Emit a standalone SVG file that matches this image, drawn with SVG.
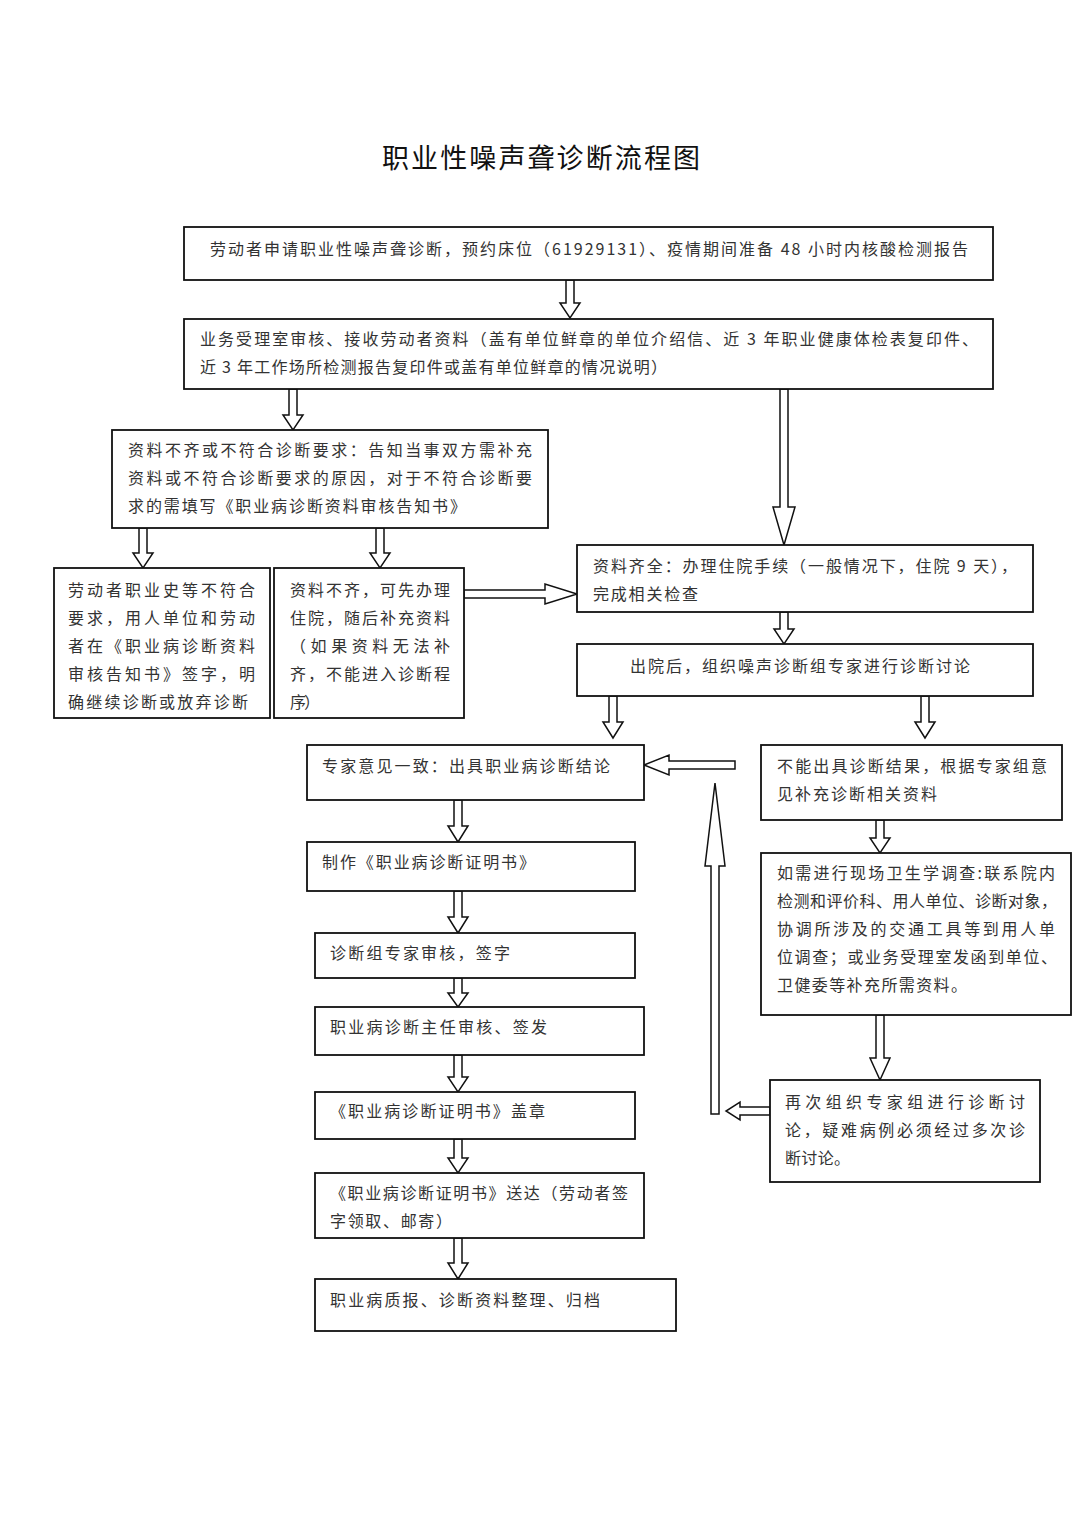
<svg xmlns="http://www.w3.org/2000/svg" width="1080" height="1528" viewBox="0 0 1080 1528">
<style>
.box{fill:#fff;stroke:#111;stroke-width:1.8}
.arr{fill:#fff;stroke:#111;stroke-width:1.5;stroke-linejoin:miter}
text{font-family:"Noto Sans CJK SC","Noto Sans",sans-serif;font-size:16px;fill:#333}
.title{font-size:27px;fill:#111}
</style>
<rect width="1080" height="1528" fill="#fff"/>
<text class="title" x="541" y="168" text-anchor="middle" textLength="318" lengthAdjust="spacing">职业性噪声聋诊断流程图</text>

<g id="connectors">
<polygon class="arr" points="566,280 574,280 574,303 580,303 570,318 560,303 566,303"/>
<polygon class="arr" points="289,389 297,389 297,415 303,415 293,430 283,415 289,415"/>
<polygon class="arr" points="780,389 788,389 788,507 795,507 784,545 773,507 780,507"/>
<polygon class="arr" points="139,528 147,528 147,553 153,553 143,568 133,553 139,553"/>
<polygon class="arr" points="376,528 384,528 384,553 390,553 380,568 370,553 376,553"/>
<polygon class="arr" points="464,590 545,590 545,584 577,594 545,604 545,598 464,598"/>
<polygon class="arr" points="780,612 788,612 788,629 794,629 784,644 774,629 780,629"/>
<polygon class="arr" points="609,696 617,696 617,722 623,722 613,738 603,722 609,722"/>
<polygon class="arr" points="921,696 929,696 929,722 935,722 925,738 915,722 921,722"/>
<polygon class="arr" points="735,761 669,761 669,755 644,765 669,775 669,769 735,769"/>
<polygon class="arr" points="711,1114 719,1114 719,866 725,866 715,783 705,866 711,866"/>
<polygon class="arr" points="770,1107 740,1107 740,1102 726,1111 740,1120 740,1115 770,1115"/>
<polygon class="arr" points="876,820 884,820 884,838 890,838 880,853 870,838 876,838"/>
<polygon class="arr" points="876,1015 884,1015 884,1058 890,1058 880,1080 870,1058 876,1058"/>
<polygon class="arr" points="454,800 462,800 462,826 468,826 458,842 448,826 454,826"/>
<polygon class="arr" points="454,891 462,891 462,917 468,917 458,933 448,917 454,917"/>
<polygon class="arr" points="454,978 462,978 462,993 468,993 458,1007 448,993 454,993"/>
<polygon class="arr" points="454,1055 462,1055 462,1077 468,1077 458,1092 448,1077 454,1077"/>
<polygon class="arr" points="454,1139 462,1139 462,1158 468,1158 458,1173 448,1158 454,1158"/>
<polygon class="arr" points="454,1238 462,1238 462,1263 468,1263 458,1279 448,1263 454,1263"/>
</g>

<g id="n1"><rect class="box" x="184" y="227" width="809" height="53"/>
<text x="210" y="255" textLength="758" lengthAdjust="spacing">劳动者申请职业性噪声聋诊断，预约床位（61929131）、疫情期间准备 48 小时内核酸检测报告</text></g>

<g id="n2"><rect class="box" x="184" y="319" width="809" height="70"/>
<text x="200" y="345" textLength="778" lengthAdjust="spacing">业务受理室审核、接收劳动者资料（盖有单位鲜章的单位介绍信、近 3 年职业健康体检表复印件、</text>
<text x="200" y="373" textLength="467" lengthAdjust="spacing">近 3 年工作场所检测报告复印件或盖有单位鲜章的情况说明）</text></g>

<g id="n3"><rect class="box" x="112" y="430" width="436" height="98"/>
<text x="128" y="456" textLength="404" lengthAdjust="spacing">资料不齐或不符合诊断要求：告知当事双方需补充</text>
<text x="128" y="484" textLength="404" lengthAdjust="spacing">资料或不符合诊断要求的原因，对于不符合诊断要</text>
<text x="128" y="512" textLength="338" lengthAdjust="spacing">求的需填写《职业病诊断资料审核告知书》</text></g>

<g id="n4"><rect class="box" x="54" y="568" width="216" height="150"/>
<text x="68" y="596" textLength="187" lengthAdjust="spacing">劳动者职业史等不符合</text>
<text x="68" y="624" textLength="187" lengthAdjust="spacing">要求，用人单位和劳动</text>
<text x="68" y="652" textLength="187" lengthAdjust="spacing">者在《职业病诊断资料</text>
<text x="68" y="680" textLength="187" lengthAdjust="spacing">审核告知书》签字，明</text>
<text x="68" y="708" textLength="180" lengthAdjust="spacing">确继续诊断或放弃诊断</text></g>

<g id="n5"><rect class="box" x="274" y="568" width="190" height="150"/>
<text x="290" y="596" textLength="160" lengthAdjust="spacing">资料不齐，可先办理</text>
<text x="290" y="624" textLength="160" lengthAdjust="spacing">住院，随后补充资料</text>
<text x="290" y="652" textLength="160" lengthAdjust="spacing">（如果资料无法补</text>
<text x="290" y="680" textLength="160" lengthAdjust="spacing">齐，不能进入诊断程</text>
<text x="290" y="708" textLength="30" lengthAdjust="spacing">序）</text></g>

<g id="n6"><rect class="box" x="577" y="545" width="456" height="67"/>
<text x="593" y="572" textLength="424" lengthAdjust="spacing">资料齐全：办理住院手续（一般情况下，住院 9 天），</text>
<text x="593" y="600" textLength="105" lengthAdjust="spacing">完成相关检查</text></g>

<g id="n7"><rect class="box" x="577" y="644" width="456" height="52"/>
<text x="630" y="672" textLength="340" lengthAdjust="spacing">出院后，组织噪声诊断组专家进行诊断讨论</text></g>

<g id="n8"><rect class="box" x="307" y="745" width="337" height="55"/>
<text x="322" y="772" textLength="288" lengthAdjust="spacing">专家意见一致：出具职业病诊断结论</text></g>

<g id="n9"><rect class="box" x="761" y="745" width="301" height="75"/>
<text x="777" y="772" textLength="270" lengthAdjust="spacing">不能出具诊断结果，根据专家组意</text>
<text x="777" y="800" textLength="160" lengthAdjust="spacing">见补充诊断相关资料</text></g>

<g id="n10"><rect class="box" x="761" y="853" width="310" height="162"/>
<text x="777" y="879" textLength="278" lengthAdjust="spacing">如需进行现场卫生学调查:联系院内</text>
<text x="777" y="907" textLength="280" lengthAdjust="spacing">检测和评价科、用人单位、诊断对象，</text>
<text x="777" y="935" textLength="278" lengthAdjust="spacing">协调所涉及的交通工具等到用人单</text>
<text x="777" y="963" textLength="280" lengthAdjust="spacing">位调查；或业务受理室发函到单位、</text>
<text x="777" y="991" textLength="190" lengthAdjust="spacing">卫健委等补充所需资料。</text></g>

<g id="n11"><rect class="box" x="770" y="1080" width="270" height="102"/>
<text x="785" y="1108" textLength="240" lengthAdjust="spacing">再次组织专家组进行诊断讨</text>
<text x="785" y="1136" textLength="240" lengthAdjust="spacing">论，疑难病例必须经过多次诊</text>
<text x="785" y="1164" textLength="65" lengthAdjust="spacing">断讨论。</text></g>

<g id="n12"><rect class="box" x="307" y="842" width="328" height="49"/>
<text x="322" y="868" textLength="213" lengthAdjust="spacing">制作《职业病诊断证明书》</text></g>

<g id="n13"><rect class="box" x="315" y="933" width="320" height="45"/>
<text x="330" y="959" textLength="180" lengthAdjust="spacing">诊断组专家审核，签字</text></g>

<g id="n14"><rect class="box" x="315" y="1007" width="329" height="48"/>
<text x="330" y="1033" textLength="217" lengthAdjust="spacing">职业病诊断主任审核、签发</text></g>

<g id="n15"><rect class="box" x="315" y="1092" width="320" height="47"/>
<text x="330" y="1117" textLength="215" lengthAdjust="spacing">《职业病诊断证明书》盖章</text></g>

<g id="n16"><rect class="box" x="315" y="1173" width="329" height="65"/>
<text x="330" y="1199" textLength="298" lengthAdjust="spacing">《职业病诊断证明书》送达（劳动者签</text>
<text x="330" y="1227" textLength="122" lengthAdjust="spacing">字领取、邮寄）</text></g>

<g id="n17"><rect class="box" x="315" y="1279" width="361" height="52"/>
<text x="330" y="1306" textLength="270" lengthAdjust="spacing">职业病质报、诊断资料整理、归档</text></g>
</svg>
